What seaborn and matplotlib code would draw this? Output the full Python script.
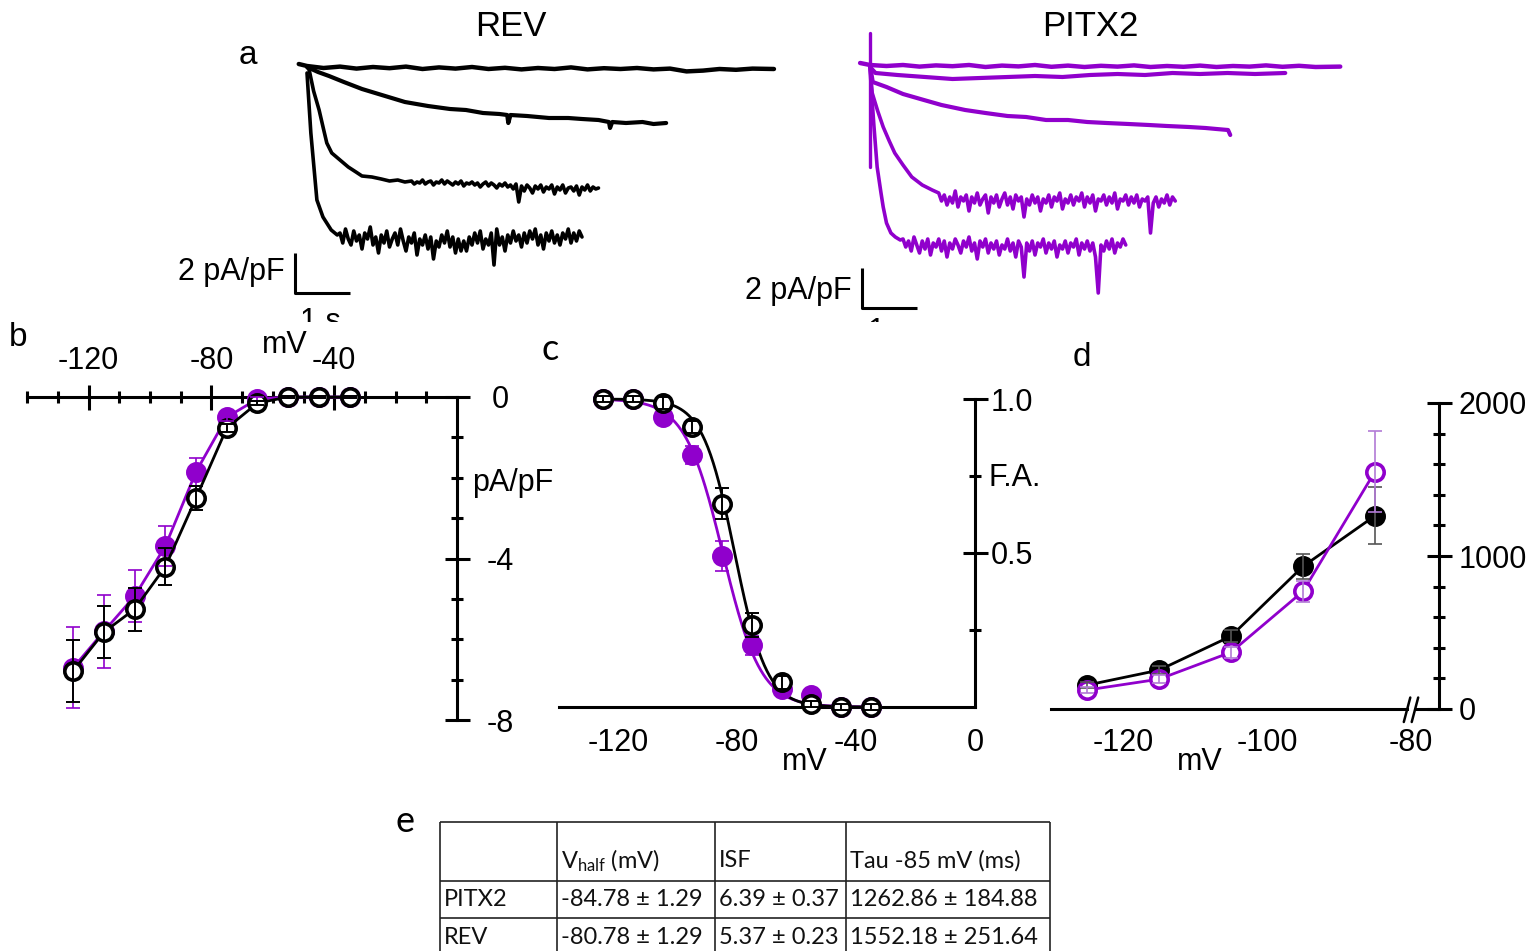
import numpy as np
import matplotlib
matplotlib.use("Agg")
from matplotlib import pyplot as plt
from matplotlib.ticker import FixedLocator
import seaborn as sns

W, H = 1531, 951
BLACK = "#000000"
PURPLE = "#9000cc"

# ---- panel a: example current traces (time in s, current in pA/pF) ----
# each trace = fast onset part (t, i) + noisy steady part sampled every 0.05 s
rev_t1 = [-0.15, 0, 0.3, 0.6, 0.9, 1.2, 1.5, 1.8, 2.1, 2.4, 2.7, 3.0, 3.3, 3.6, 3.9, 4.2,
          4.5, 4.8, 5.1, 5.4, 5.7, 6.0, 6.3, 6.6, 6.9, 7.2, 7.5, 7.8, 8.1, 8.49]
rev_i1 = [0.15, 0.05, -0.05, 0.02, -0.08, 0.0, -0.06, 0.02, -0.1, -0.02, -0.08, 0.0, -0.1,
          -0.04, -0.12, -0.05, -0.1, -0.02, -0.12, -0.06, -0.1, -0.05, -0.12, -0.08, -0.22,
          -0.18, -0.1, -0.14, -0.08, -0.1]
rev_t2 = [0, 0.2, 0.4, 0.67, 1.0, 1.3, 1.78, 2.2, 2.6, 2.89, 3.2, 3.5, 3.64, 3.66, 3.7, 4.0,
          4.4, 4.75, 5.0, 5.3, 5.49, 5.51, 5.55, 5.8, 6.1, 6.3, 6.53]
rev_i2 = [0, -0.25, -0.45, -0.75, -1.1, -1.35, -1.75, -1.95, -2.1, -2.15, -2.3, -2.35, -2.4,
          -2.8, -2.4, -2.45, -2.55, -2.55, -2.6, -2.65, -2.75, -3.05, -2.75, -2.8, -2.75,
          -2.85, -2.8]
rev_t3_on = [0, 0.04, 0.12, 0.22, 0.3, 0.36, 0.45, 0.6, 0.75, 0.89, 1.0, 1.18, 1.35, 1.5,
             1.65, 1.78]
rev_i3_on = [0, -0.15, -1.2, -2.15, -3.1, -3.8, -4.3, -4.65, -5.0, -5.25, -5.45, -5.5, -5.6,
             -5.7, -5.65, -5.75]
rev_t3_ss = 1.9
rev_i3_ss = [-5.7, -5.85, -5.75, -5.8, -5.65, -5.85, -5.75, -5.7, -5.9, -5.75,
             -5.8, -5.65, -5.85, -5.7, -5.8, -5.9, -5.75, -5.85, -5.7, -5.95,
             -5.8, -5.85, -5.75, -5.9, -5.8, -6.0, -5.85, -5.75, -5.95, -5.8,
             -5.9, -6.05, -5.85, -5.95, -5.8, -6.0, -5.9, -6.1, -5.85, -6.75,
             -5.95, -6.2, -5.9, -6.05, -6.3, -5.95, -6.1, -5.9, -6.25, -6.0,
             -6.1, -5.9, -6.35, -6.0, -6.15, -5.9, -6.3, -6.05, -6.0, -6.2,
             -5.95, -6.4, -6.0, -6.15, -5.9, -6.2, -6.0, -6.1, -6.05]
rev_t4_on = [0, 0.07, 0.18, 0.29, 0.44, 0.55]
rev_i4_on = [-0.3, -3.3, -6.65, -7.5, -8.15, -8.4]
rev_t4_ss = 0.6
rev_i4_ss = [-8.3, -8.8, -8.1, -8.6, -8.9, -8.2, -8.7, -8.4, -9.1, -8.3,
             -8.6, -8.0, -8.9, -8.5, -9.3, -8.4, -8.8, -8.2, -9.0, -8.6,
             -8.3, -8.9, -8.1, -8.7, -9.2, -8.5, -8.8, -8.3, -9.4, -8.6,
             -8.9, -8.4, -9.1, -8.5, -9.6, -8.7, -9.0, -8.4, -8.8, -8.2,
             -9.0, -8.5, -9.3, -8.6, -9.2, -8.7, -9.2, -8.5, -8.9, -8.3,
             -8.8, -8.2, -9.1, -8.6, -8.9, -8.3, -9.9, -8.1, -8.9, -8.5,
             -9.2, -8.4, -8.8, -8.2, -8.7, -8.4, -9.0, -8.3, -8.8, -8.2,
             -8.6, -8.1, -8.9, -8.4, -9.1, -8.3, -8.7, -8.2, -8.8, -8.4,
             -8.9, -8.3, -8.6, -8.1, -8.8, -8.3, -8.7, -8.2, -8.5]

pit_t1 = [-0.18, 0, 0.3, 0.6, 0.9, 1.2, 1.5, 1.8, 2.1, 2.4, 2.7, 3.0, 3.3, 3.6, 3.9, 4.2,
          4.5, 4.8, 5.1, 5.4, 5.7, 6.0, 6.3, 6.6, 6.9, 7.2, 7.5, 7.8, 8.1, 8.55]
pit_i1 = [0.1, 0.0, -0.05, 0.0, -0.08, -0.02, -0.06, 0.0, -0.1, -0.03, -0.07, 0.0, -0.09,
          -0.03, -0.1, -0.04, -0.08, -0.02, -0.1, -0.05, -0.09, -0.03, -0.1, -0.05, -0.08,
          -0.02, -0.09, -0.04, -0.1, -0.08]
pit_t2 = [0, 0.1, 0.5, 1.0, 1.5, 2.0, 2.5, 3.0, 3.5, 4.0, 4.5, 5.0, 5.5, 6.0, 6.5, 7.0, 7.55]
pit_i2 = [-0.1, -0.4, -0.5, -0.6, -0.7, -0.65, -0.6, -0.55, -0.6, -0.5, -0.45, -0.5, -0.4,
          -0.45, -0.4, -0.45, -0.4]
pit_t3 = [0, 0.05, 0.3, 0.6, 0.98, 1.3, 1.73, 2.1, 2.5, 2.84, 3.2, 3.6, 3.95, 4.3, 4.7, 5.07,
          5.4, 5.8, 6.1, 6.3, 6.51, 6.55]
pit_i3 = [0, -0.85, -1.1, -1.45, -1.75, -2.0, -2.25, -2.4, -2.55, -2.6, -2.75, -2.75, -2.85,
          -2.9, -2.95, -3.0, -3.05, -3.1, -3.15, -3.2, -3.25, -3.5]
pit_t4_on = [0, 0.04, 0.14, 0.24, 0.35, 0.45, 0.6, 0.76, 0.95, 1.13]
pit_i4_on = [0, -1.4, -2.3, -3.1, -3.8, -4.4, -5.0, -5.6, -6.0, -6.25]
pit_t4_ss = 1.25
pit_i4_ss = [-6.4, -6.8, -6.5, -7.0, -6.6, -6.9, -6.3, -7.1, -6.6, -6.8,
             -6.5, -7.3, -6.6, -6.9, -6.4, -7.0, -6.7, -6.5, -7.4, -6.6,
             -6.9, -6.5, -7.1, -6.7, -6.4, -7.0, -6.6, -7.2, -6.5, -6.8,
             -6.6, -7.6, -6.7, -7.0, -6.5, -6.9, -6.6, -7.3, -6.7, -6.9,
             -6.5, -7.1, -6.6, -6.8, -6.4, -7.2, -6.7, -6.9, -6.5, -7.0,
             -6.6, -6.8, -6.4, -7.1, -6.6, -6.9, -6.5, -7.3, -6.7, -6.8,
             -6.5, -7.0, -6.6, -6.9, -6.4, -7.2, -6.7, -6.8, -6.5, -7.0,
             -6.6, -6.9, -6.5, -7.1, -6.7, -6.8, -6.6, -8.4, -6.9, -6.6,
             -7.1, -6.7, -6.9, -6.5, -7.0, -6.6, -6.8]
pit_t5_on = [0, 0.07, 0.13, 0.2, 0.24, 0.3, 0.38, 0.46, 0.55]
pit_i5_on = [-0.2, -3.0, -5.1, -6.4, -7.1, -7.9, -8.4, -8.6, -8.75]
pit_t5_ss = 0.6
pit_i5_ss = [-8.7, -9.1, -8.8, -9.3, -8.6, -9.0, -9.4, -8.8, -9.2, -8.7,
             -9.5, -8.9, -9.1, -8.7, -9.3, -8.8, -9.6, -8.9, -9.2, -8.7,
             -9.0, -9.4, -8.8, -9.1, -8.6, -9.3, -8.9, -9.7, -8.8, -9.1,
             -8.7, -9.4, -8.9, -9.2, -8.8, -9.5, -9.0, -9.2, -8.7, -9.3,
             -8.9, -9.6, -8.8, -9.1, -10.6, -8.9, -9.3, -8.8, -9.5, -8.9,
             -9.1, -8.7, -9.4, -8.9, -9.2, -8.8, -9.6, -9.0, -9.2, -8.8,
             -9.4, -8.9, -9.1, -8.7, -9.5, -8.9, -9.2, -8.8, -9.3, -8.9,
             -9.6, -11.4, -9.0, -9.3, -8.8, -9.2, -8.7, -9.4, -8.9, -9.1,
             -8.7, -9.0]
pit_transient_t = [0, 0]
pit_transient_i = [1.6, -5.1]
dt_ss = 0.05

# ---- panels b-d ----
volt = [-125, -115, -105, -95, -85, -75, -65, -55, -45, -35]
rev_iv = [-6.78, -5.82, -5.25, -4.2, -2.5, -0.77, -0.15, 0.0, 0.0, 0.0]
rev_iv_err = [0.77, 0.65, 0.53, 0.45, 0.3, 0.1, 0.05, 0.03, 0.03, 0.03]
pitx2_iv = [-6.7, -5.8, -4.93, -3.69, -1.85, -0.5, -0.05, 0.0, 0.0, 0.0]
pitx2_iv_err = [1.0, 0.9, 0.65, 0.5, 0.35, 0.1, 0.05, 0.03, 0.03, 0.03]

rev_fa = [1.0, 1.0, 0.987, 0.91, 0.66, 0.266, 0.08, 0.01, 0.0, 0.0]
rev_fa_err = [0.01, 0.01, 0.02, 0.02, 0.05, 0.04, 0.02, 0.01, 0.01, 0.01]
pitx2_fa = [1.0, 1.0, 0.94, 0.818, 0.49, 0.20, 0.06, 0.04, 0.0, 0.0]
pitx2_fa_err = [0.01, 0.01, 0.02, 0.03, 0.05, 0.03, 0.02, 0.01, 0.01, 0.01]

volt_tau = [-125, -115, -105, -95, -85]
tau_black = [156, 254, 476, 932, 1263]
tau_black_err = [20, 25, 40, 80, 185]
tau_purple = [124, 195, 371, 769, 1552]
tau_purple_err = [20, 25, 35, 70, 265]

# ---- panel e: table ----
groups = ["PITX2", "REV"]
vhalf = [-84.78, -80.78]
vhalf_sem = [1.29, 1.29]
isf = [6.39, 5.37]
isf_sem = [0.37, 0.23]
tau85 = [1262.86, 1552.18]
tau85_sem = [184.88, 251.64]
header = ["", "V$_{\\mathrm{half}}$ (mV)", "ISF", "Tau -85 mV (ms)"]

sns.set_style("white", {"axes.edgecolor": "black", "xtick.color": "black",
                        "ytick.color": "black", "text.color": "black"})
plt.rcParams["font.family"] = ["Liberation Sans", "DejaVu Sans"]
plt.rcParams["axes.unicode_minus"] = False
plt.rcParams["mathtext.fontset"] = "custom"
plt.rcParams["mathtext.rm"] = "Lato"
plt.rcParams["mathtext.it"] = "Lato:italic"

fig = plt.figure(figsize=(W / 100, H / 100), dpi=100)


def px_axes(left, top, right, bottom):
    ax = fig.add_axes([left / W, 1 - bottom / H, (right - left) / W, (bottom - top) / H])
    ax.patch.set_visible(False)
    return ax


def x_lims(left, right, ref_px, ref_val, ppu):
    return ref_val + (left - ref_px) / ppu, ref_val + (right - ref_px) / ppu


def y_lims(top, bottom, ref_px, ref_val, ppu):
    return ref_val - (bottom - ref_px) / ppu, ref_val + (ref_px - top) / ppu


def fig_text(x, y, s, **kw):
    fig.text(x / W, 1 - y / H, s, **kw)


def join(t_on, i_on, t_ss, i_ss):
    t = list(t_on) + list(t_ss + dt_ss * np.arange(len(i_ss)))
    return t, list(i_on) + list(i_ss)


def trace(ax, t, i, color, lw=2.6):
    sns.lineplot(x=t, y=i, ax=ax, color=color, linewidth=lw, sort=False, estimator=None)


def scale_bar(ax, t0, i0, color="black"):
    ax.plot([t0, t0, t0 + 1], [i0 + 2, i0, i0], color=color, lw=2.2, solid_capstyle="butt")


# panel a, REV
ax_rev = px_axes(160, 30, 800, 322)
ax_rev.set_xlim(*x_lims(160, 800, 307, 0, 55))
ax_rev.set_ylim(*y_lims(30, 322, 67, 0, 20))
trace(ax_rev, rev_t1, rev_i1, BLACK, 3.2)
trace(ax_rev, rev_t2, rev_i2, BLACK, 3.0)
trace(ax_rev, *join(rev_t3_on, rev_i3_on, rev_t3_ss, rev_i3_ss), BLACK)
trace(ax_rev, *join(rev_t4_on, rev_i4_on, rev_t4_ss, rev_i4_ss), BLACK)
scale_bar(ax_rev, -0.218, -11.3)
ax_rev.text(-0.4, -10.25, "2 pA/pF", ha="right", va="center", fontsize=22)
ax_rev.text(0.24, -12.0, "1 s", ha="center", va="top", fontsize=22, clip_on=True)
ax_rev.set_axis_off()

# panel a, PITX2
ax_pit = px_axes(720, 25, 1360, 322)
ax_pit.set_xlim(*x_lims(720, 1360, 870, 0, 55))
ax_pit.set_ylim(*y_lims(25, 322, 65, 0, 20))
trace(ax_pit, pit_t1, pit_i1, PURPLE, 3.2)
trace(ax_pit, pit_t2, pit_i2, PURPLE, 3.0)
trace(ax_pit, pit_t3, pit_i3, PURPLE, 3.0)
trace(ax_pit, *join(pit_t4_on, pit_i4_on, pit_t4_ss, pit_i4_ss), PURPLE)
trace(ax_pit, *join(pit_t5_on, pit_i5_on, pit_t5_ss, pit_i5_ss), PURPLE)
trace(ax_pit, pit_transient_t, pit_transient_i, PURPLE, 2.4)
scale_bar(ax_pit, -0.145, -12.15)
ax_pit.text(-0.33, -11.3, "2 pA/pF", ha="right", va="center", fontsize=22)
ax_pit.text(0.33, -12.6, "1 s", ha="center", va="top", fontsize=22, clip_on=True)
ax_pit.set_axis_off()


def style_ticks(ax, pad_x, pad_y):
    ax.tick_params(which="major", direction="inout", length=18, width=2.2, labelsize=22)
    ax.tick_params(which="minor", direction="inout", length=9, width=2.2)
    ax.tick_params(axis="x", which="major", pad=pad_x)
    ax.tick_params(axis="y", which="major", pad=pad_y)
    for sp in ax.spines.values():
        sp.set_linewidth(2.2)


MS = 12.5
MEW = 2.6


def series(ax, x, y, err, color, filled, ecolor, elw, z):
    sns.lineplot(x=x, y=y, ax=ax, color=color, linewidth=2.0, marker="o", markersize=MS,
                 markerfacecolor=color if filled else "white", markeredgecolor=color,
                 markeredgewidth=MEW, sort=False, estimator=None, zorder=z)
    ax.errorbar(x, y, yerr=err, fmt="none", ecolor=ecolor, elinewidth=elw, capsize=5,
                capthick=elw, zorder=z + 5)


# panel b: I-V
ax_b = px_axes(15, 370, 470, 735)
ax_b.set_xlim(*x_lims(15, 470, 457, 0, 3.07))
ax_b.set_ylim(*y_lims(370, 735, 397, 0, 40.4))
ax_b.spines["left"].set_visible(False)
ax_b.spines["bottom"].set_visible(False)
ax_b.spines["top"].set_position(("data", 0))
ax_b.spines["right"].set_position(("data", 0))
ax_b.spines["top"].set_bounds(-140, 0)
ax_b.spines["right"].set_bounds(-8, 0)
ax_b.xaxis.set_ticks_position("top")
ax_b.yaxis.set_ticks_position("right")
ax_b.set_xticks([-120, -80, -40])
ax_b.xaxis.set_minor_locator(FixedLocator(np.arange(-140, 0, 10)))
ax_b.set_yticks([-8, -4, 0])
ax_b.yaxis.set_minor_locator(FixedLocator(np.arange(-7, 0, 1)))
style_ticks(ax_b, 6, 22)
for tk in ax_b.yaxis.get_major_ticks():
    tk.label2.set_horizontalalignment("center")
series(ax_b, volt, pitx2_iv, pitx2_iv_err, PURPLE, True, PURPLE, 1.2, 3)
series(ax_b, volt, rev_iv, rev_iv_err, BLACK, False, BLACK, 1.4, 4)
ax_b.set_xlabel("")
ax_b.set_ylabel("")
fig_text(285, 345, "mV", ha="center", va="center", fontsize=22)
fig_text(472, 483, "pA/pF", ha="left", va="center", fontsize=22)

# panel c: activation
ax_c = px_axes(545, 380, 995, 725)
ax_c.set_xlim(*x_lims(545, 995, 975, 0, 2.975))
ax_c.set_ylim(*y_lims(380, 725, 707, 0, 308))
ax_c.spines["left"].set_visible(False)
ax_c.spines["top"].set_visible(False)
ax_c.spines["bottom"].set_position(("data", 0))
ax_c.spines["right"].set_position(("data", 0))
ax_c.spines["bottom"].set_bounds(-140, 0)
ax_c.spines["right"].set_bounds(0, 1)
ax_c.yaxis.set_ticks_position("right")
ax_c.set_xticks([-120, -80, -40, 0])
ax_c.xaxis.set_minor_locator(FixedLocator(np.arange(-140, 0, 10)))
ax_c.set_yticks([0.5, 1.0])
ax_c.set_yticklabels(["0.5", "1.0"])
ax_c.yaxis.set_minor_locator(FixedLocator([0.25, 0.75]))
style_ticks(ax_c, 6, 2)
v_fit = np.linspace(-125, -35, 300)
for vh, k, color, z in [(vhalf[0], isf[0], PURPLE, 3), (vhalf[1], isf[1], BLACK, 4)]:
    sns.lineplot(x=v_fit, y=1 / (1 + np.exp((v_fit - vh) / k)), ax=ax_c, color=color,
                 linewidth=2.0, zorder=z)
sns.scatterplot(x=volt, y=pitx2_fa, ax=ax_c, s=MS ** 2, color=PURPLE, edgecolor=PURPLE,
                linewidth=MEW, zorder=5)
ax_c.errorbar(volt, pitx2_fa, yerr=pitx2_fa_err, fmt="none", ecolor=PURPLE, elinewidth=1.2,
              capsize=5, capthick=1.2, zorder=6)
sns.scatterplot(x=volt, y=rev_fa, ax=ax_c, s=MS ** 2, color="white", edgecolor=BLACK,
                linewidth=MEW, zorder=7)
ax_c.errorbar(volt, rev_fa, yerr=rev_fa_err, fmt="none", ecolor=BLACK, elinewidth=1.4,
              capsize=5, capthick=1.4, zorder=8)
ax_c.set_xlabel("")
ax_c.set_ylabel("")
fig_text(805, 762, "mV", ha="center", va="center", fontsize=22)
fig_text(988, 478, "F.A.", ha="left", va="center", fontsize=22)

# panel d: time constants
brk = -80.0
ax_d = px_axes(1045, 385, 1450, 725)
ax_d.set_xlim(*x_lims(1045, 1450, 1267, -100, 7.2))
ax_d.set_ylim(*y_lims(385, 725, 709, 0, 0.153))
ax_d.spines["left"].set_visible(False)
ax_d.spines["top"].set_visible(False)
ax_d.spines["bottom"].set_position(("data", 0))
ax_d.spines["right"].set_position(("data", -76.1))
ax_d.spines["bottom"].set_bounds(-130, brk - 0.6)
ax_d.spines["right"].set_bounds(0, 2000)
ax_d.yaxis.set_ticks_position("right")
ax_d.set_xticks([-120, -100, -80])
ax_d.xaxis.set_minor_locator(FixedLocator([-110, -90]))
ax_d.set_yticks([0, 1000, 2000])
ax_d.yaxis.set_minor_locator(FixedLocator(np.arange(200, 2000, 200)))
style_ticks(ax_d, 5, 5)
ax_d.xaxis.get_major_ticks()[2].tick1line.set_visible(False)
ax_d.plot([brk + 0.6, -76.1], [0, 0], color=BLACK, lw=2.2, solid_capstyle="butt")
for dx in [-1.0, 0.1]:
    ax_d.plot([brk + dx, brk + dx + 0.9], [-85, 75], color=BLACK, lw=1.8)
series(ax_d, volt_tau, tau_black, tau_black_err, BLACK, True, "#555555", 1.2, 3)
series(ax_d, volt_tau, tau_purple, tau_purple_err, PURPLE, False, "#b27ad6", 1.2, 4)
ax_d.set_xlabel("")
ax_d.set_ylabel("")
fig_text(1200, 762, "mV", ha="center", va="center", fontsize=22)

# panel e: parameter table
col_edges = [440, 557, 715, 846, 1050]
row_edges = [822, 881, 918, 956]
ax_e = px_axes(430, 815, 1060, 965)
ax_e.set_xlim(430, 1060)
ax_e.set_ylim(965, 815)
ax_e.set_axis_off()
ax_e.hlines(row_edges, col_edges[0], col_edges[-1], color="#222222", lw=1.2)
ax_e.vlines(col_edges, row_edges[0], row_edges[-1], color="#222222", lw=1.2)
rows = [header] + [[g, f"{v:.2f} \u00b1 {vs:.2f}", f"{s:.2f} \u00b1 {ss:.2f}",
                    f"{t:.2f} \u00b1 {ts:.2f}"]
                   for g, v, vs, s, ss, t, ts in zip(groups, vhalf, vhalf_sem, isf, isf_sem,
                                                     tau85, tau85_sem)]
row_y = [861, 900, 938]
for r, y in zip(rows, row_y):
    for c, s in enumerate(r):
        ax_e.text(col_edges[c] + 4, y, s, ha="left", va="center", fontsize=17,
                  family="Lato", color="#111111")

# panel letters and titles
fig_text(248, 55, "a", ha="center", va="center", fontsize=24)
fig_text(18, 337, "b", ha="center", va="center", fontsize=24)
fig_text(550, 350, "c", ha="center", va="center", fontsize=26, family="Lato")
fig_text(1082, 358, "d", ha="center", va="center", fontsize=24)
fig_text(405, 822, "e", ha="center", va="center", fontsize=26, family="Lato")
fig_text(511, 27, "REV", ha="center", va="center", fontsize=25)
fig_text(1090, 27, "PITX2", ha="center", va="center", fontsize=25)

fig.savefig("out.png", dpi=100)
